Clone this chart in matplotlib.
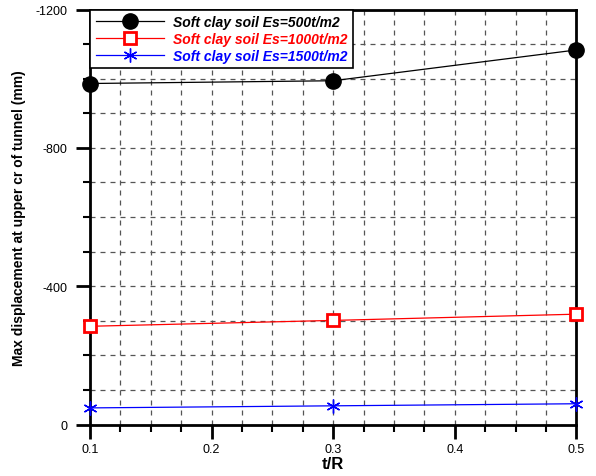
import numpy as np
import matplotlib
matplotlib.use("Agg")
import matplotlib.pyplot as plt
from matplotlib.ticker import MultipleLocator

plt.rcParams["font.family"] = ["Liberation Sans", "DejaVu Sans"]

t_over_r = [0.1, 0.3, 0.5]
disp_es500 = [-986, -994, -1083]
disp_es1000 = [-284, -301, -319]
disp_es1500 = [-48, -54, -60]
labels = ["Soft clay soil Es=500t/m2",
          "Soft clay soil Es=1000t/m2",
          "Soft clay soil Es=1500t/m2"]

fig = plt.figure(figsize=(5.96, 4.77), dpi=100)
ax = fig.add_axes([90 / 596, (477 - 425.5) / 477, (576.3 - 90) / 596, (425.5 - 10.5) / 477])

ax.plot(t_over_r, disp_es500, color="black", lw=0.9, marker="o", ms=11,
        mfc="black", mec="black", label=labels[0], clip_on=False, zorder=5)
ax.plot(t_over_r, disp_es1000, color="red", lw=0.9, marker="s", ms=9,
        mfc="white", mec="red", mew=2, label=labels[1], clip_on=False, zorder=5)
ax.plot(t_over_r, disp_es1500, color="blue", lw=0.9, marker=(6, 2, 0), ms=10,
        mec="blue", mew=1, label=labels[2], clip_on=False, zorder=5)

ax.set_xlim(0.1, 0.5)
ax.set_ylim(0, -1200)
ax.xaxis.set_major_locator(MultipleLocator(0.1))
ax.xaxis.set_minor_locator(MultipleLocator(0.025))
ax.yaxis.set_major_locator(MultipleLocator(400))
ax.yaxis.set_minor_locator(MultipleLocator(100))
ax.xaxis.set_major_formatter(plt.FuncFormatter(lambda v, p: f"{v:.1f}"))
ax.yaxis.set_major_formatter(plt.FuncFormatter(lambda v, p: f"{v:.0f}"))

ax.grid(True, which="both", color="#555555", ls=(0, (4, 4)), lw=0.9)
ax.tick_params(which="major", direction="out", length=10, width=2, labelsize=9)
ax.tick_params(axis="x", which="major", pad=3)
ax.tick_params(axis="y", which="major", pad=6)
ax.tick_params(which="minor", direction="out", length=5, width=1.5)

for s in ax.spines.values():
    s.set_linewidth(2)

ax.set_xlabel("t/R", fontsize=12, fontweight="bold", labelpad=1)
ax.set_ylabel("Max displacement at upper cr of tunnel (mm)", fontsize=10,
              fontweight="bold", labelpad=7)

leg = ax.legend(loc="upper left", borderaxespad=0, fancybox=False,
                framealpha=1, edgecolor="black", handlelength=4.9,
                handletextpad=0.7,
                prop={"weight": "bold", "style": "italic", "size": 10},
                borderpad=0.4, labelspacing=0.2)
leg.get_frame().set_linewidth(1.2)
for txt, c in zip(leg.get_texts(), ["black", "red", "blue"]):
    txt.set_color(c)

fig.savefig("out.png", dpi=100)
